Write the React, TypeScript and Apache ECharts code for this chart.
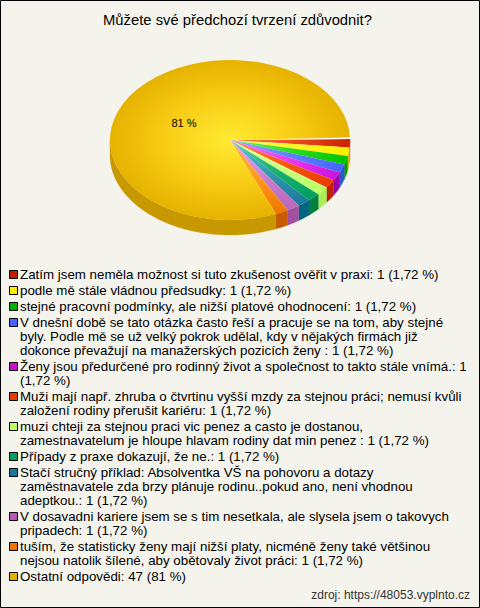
import React, { useEffect, useRef } from "react";
import * as echarts from "echarts";

const titleText = "Můžete své předchozí tvrzení zdůvodnit?";
const sourceText = "zdroj: https://48053.vyplnto.cz";
const labels = [
  "Zatím jsem neměla možnost si tuto zkušenost ověřit v praxi: 1 (1,72 %)",
  "podle mě stále vládnou předsudky: 1 (1,72 %)",
  "stejné pracovní podmínky, ale nižší platové ohodnocení: 1 (1,72 %)",
  "V dnešní době se tato otázka často řeší a pracuje se na tom, aby stejné\nbyly. Podle mě se už velký pokrok udělal, kdy v nějakých firmách již\ndokonce převažují na manažerských pozicích ženy : 1 (1,72 %)",
  "Ženy jsou předurčené pro rodinný život a společnost to takto stále vnímá.: 1\n(1,72 %)",
  "Muži mají např. zhruba o čtvrtinu vyšší mzdy za stejnou práci; nemusí kvůli\nzaložení rodiny přerušit kariéru: 1 (1,72 %)",
  "muzi chteji za stejnou praci vic penez a casto je dostanou,\nzamestnavatelum je hloupe hlavam rodiny dat min penez : 1 (1,72 %)",
  "Případy z praxe dokazují, že ne.: 1 (1,72 %)",
  "Stačí stručný příklad: Absolventka VŠ na pohovoru a dotazy\nzaměstnavatele zda brzy plánuje rodinu..pokud ano, není vhodnou\nadeptkou.: 1 (1,72 %)",
  "V dosavadni kariere jsem se s tim nesetkala, ale slysela jsem o takovych\npripadech: 1 (1,72 %)",
  "tuším, že statisticky ženy mají nižší platy, nicméně ženy také většinou\nnejsou natolik šílené, aby obětovaly život práci: 1 (1,72 %)",
  "Ostatní odpovědi: 47 (81 %)",
];
const values = [1, 1, 1, 1, 1, 1, 1, 1, 1, 1, 1, 47];
const pieLabels = ["", "", "", "", "", "", "", "", "", "", "", "81 %"];
const swatch = ["#C02000", "#FFEE00", "#00B000", "#4466FF", "#CC11CC", "#E04000", "#BBFF66", "#00A060", "#1A7A99", "#BB55BB", "#EE7700", "#E5B200"];
const inner = ["#FF8050", "#FFFA70", "#70F860", "#90A8FF", "#FF70FF", "#FF8040", "#EEFFAA", "#50D8A0", "#60C0D8", "#EEAAEE", "#FFB840", "#FFEB33"];
const middle = ["#E84A20", "#FFF420", "#28DC20", "#5C80FF", "#E83CF0", "#F85810", "#CCFF80", "#18B070", "#3098B0", "#CC80CC", "#FF9818", "#F8CC14"];
const outer = ["#CC2200", "#FFEE00", "#00C400", "#4466FF", "#CC11DD", "#E83C00", "#BBFF66", "#00A060", "#1A7A99", "#BB66BB", "#EE7700", "#E5B200"];
const wall = ["#C42000", "#DDBB00", "#00A000", "#3355CC", "#9900AA", "#C02000", "#A8EE55", "#007F40", "#006680", "#A050A0", "#C85A00", "#C79800"];

const CX = 230, CY = 140, RX = 120, RY = 80, DEPTH = 15;
const START = (-0.8 * Math.PI) / 180;
const FONT = "'Liberation Sans', Arial, sans-serif";
const total = values.reduce((a, b) => a + b, 0);

function wallPoints(a0: number, a1: number) {
  const from = Math.max(a0, 0), to = Math.min(a1, Math.PI);
  if (to <= from) return null;
  const top: number[][] = [], bottom: number[][] = [];
  const n = Math.max(2, Math.ceil((to - from) / 0.02));
  for (let i = 0; i <= n; i++) {
    const a = from + ((to - from) * i) / n;
    const x = CX + RX * Math.cos(a), y = CY + RY * Math.sin(a);
    top.push([x, y]);
    bottom.unshift([x, y + DEPTH]);
  }
  return top.concat(bottom);
}

function renderItem(params: any, api: any) {
  const i = params.dataIndex;
  let before = 0;
  for (let k = 0; k < i; k++) before += values[k];
  const a0 = START + (before / total) * Math.PI * 2;
  const a1 = START + ((before + api.value(0)) / total) * Math.PI * 2;
  const children: any[] = [];
  const pts = wallPoints(a0, a1);
  if (pts) children.push({ type: "polygon", shape: { points: pts }, style: { fill: wall[i], stroke: wall[i], lineWidth: 0.3 } });
  children.push({
    type: "sector",
    x: CX, y: CY, scaleY: RY / RX,
    shape: { cx: 0, cy: 0, r0: 0, r: RX, startAngle: a0, endAngle: a1, clockwise: true },
    style: {
      fill: new echarts.graphic.RadialGradient(0, 0, RX, [
        { offset: 0, color: inner[i] },
        { offset: 0.55, color: middle[i] },
        { offset: 1, color: outer[i] },
      ], true),
    },
  });
  if (pieLabels[i]) {
    children.push({
      type: "text",
      x: 184, y: 123,
      style: { text: pieLabels[i], font: `11px ${FONT}`, fill: "#000", align: "center", verticalAlign: "middle" },
    });
  }
  if (i === values.length - 1) {
    children.push({ type: "polygon", shape: { points: [[CX, CY], [CX + RX + 1, CY - 2.4], [CX + RX + 1, CY - 0.9]] }, style: { fill: "#fff" } });
  }
  return { type: "group", children };
}

function legendGraphics() {
  const out: any[] = [];
  let y = 267;
  labels.forEach((t, i) => {
    out.push({ type: "rect", shape: { x: 9.5, y: y + 3.5, width: 8, height: 8 }, style: { fill: swatch[i], stroke: "#000", lineWidth: 1 } });
    out.push({ type: "text", x: 20, y: y, style: { text: t, font: `13.33px ${FONT}`, fill: "#000", lineHeight: 14 } });
    y += t.split("\n").length * 14 + 2;
  });
  out.push({ type: "text", x: 470, y: 589, style: { text: sourceText, font: `12px ${FONT}`, fill: "#333", align: "right" } });
  out.push({ type: "rect", shape: { x: 0.5, y: 0.5, width: 479, height: 607 }, style: { fill: "none", stroke: "#000", lineWidth: 1 } });
  return out;
}

export default function App() {
  const ref = useRef<HTMLDivElement>(null);
  useEffect(() => {
    document.body.style.margin = "0";
    const chart = echarts.init(ref.current!, undefined, { renderer: "svg" });
    chart.setOption({
      animation: false,
      backgroundColor: "#F4F4EC",
      title: { text: titleText, left: 98, top: 7, textStyle: { fontFamily: FONT, fontSize: 14.8, fontWeight: "normal", color: "#000" } },
      graphic: legendGraphics(),
      series: [{ type: "custom", coordinateSystem: "none", renderItem, data: values.map((v) => [v]), clip: false }],
    });
    return () => chart.dispose();
  }, []);
  return <div ref={ref} style={{ width: 480, height: 608 }} />;
}
